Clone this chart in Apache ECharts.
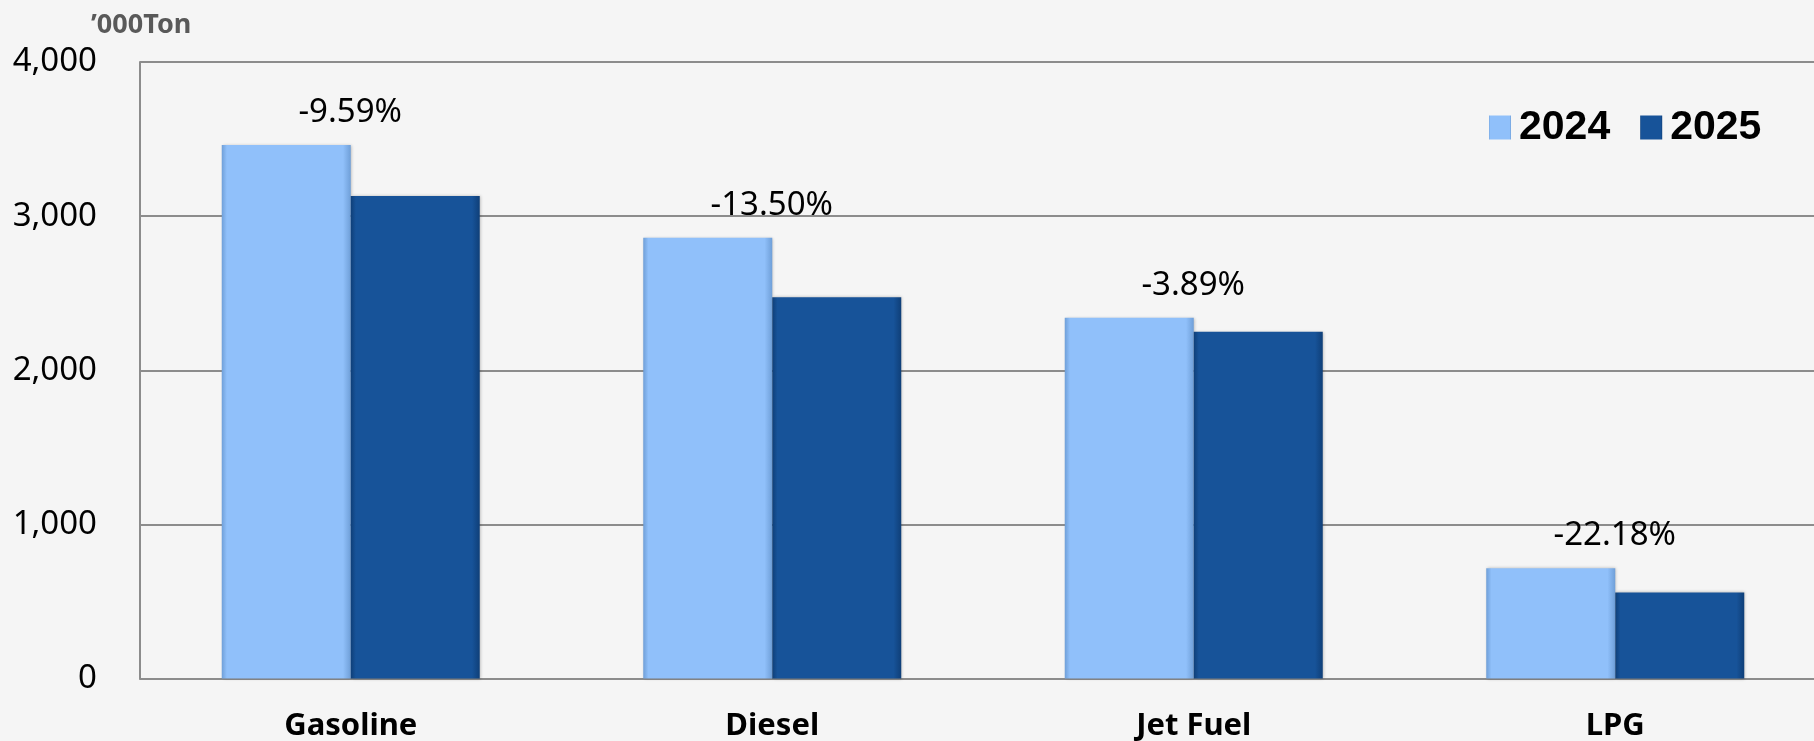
<!DOCTYPE html>
<html>
<head>
<meta charset="utf-8">
<script src="https://cdn.jsdelivr.net/npm/echarts@6/dist/echarts.min.js"></script>
<style>
html,body{margin:0;padding:0;background:#f5f5f5;overflow:hidden;}
#chart{width:1814px;height:741px;}
</style>
</head>
<body>
<div id="chart"></div>
<script>
const categories = ['Gasoline', 'Diesel', 'Jet Fuel', 'LPG'];
const values2024 = [3462, 2860, 2340, 715];
const values2025 = [3130, 2474, 2249, 558];
const pctLabels = ['-9.59%', '-13.50%', '-3.89%', '-22.18%'];
const seriesNames = ['2024', '2025'];
const unitLabel = '\u2019000Ton';

function bevel(edge, main) {
  return new echarts.graphic.LinearGradient(0, 0, 1, 0, [
    { offset: 0, color: edge },
    { offset: 0.04, color: main },
    { offset: 0.94, color: main },
    { offset: 1, color: edge }
  ]);
}

const chart = echarts.init(document.getElementById('chart'));
chart.setOption({
  backgroundColor: '#f5f5f5',
  animation: false,
  title: {
    text: unitLabel,
    left: 86,
    top: 7,
    textStyle: { fontFamily: 'Noto Sans', fontWeight: 'bold', fontSize: 27, color: '#595959' }
  },
  legend: {
    left: 1484,
    top: 102,
    itemWidth: 22,
    itemHeight: 24,
    itemGap: 30,
    icon: 'rect',
    textStyle: { fontFamily: 'Liberation Sans', fontWeight: 'bold', fontSize: 41, color: '#000', padding: [0, 0, 0, 3] },
    data: seriesNames
  },
  grid: { left: 140, top: 62, width: 1686, height: 616.5, outerBoundsMode: 'none', containLabel: false },
  xAxis: {
    type: 'category',
    data: categories,
    axisLine: { lineStyle: { color: '#8c8c8c', width: 2 } },
    axisTick: { show: false },
    axisLabel: { margin: 32, fontFamily: 'Noto Sans', fontWeight: 'bold', fontSize: 31, color: '#000' }
  },
  yAxis: {
    type: 'value',
    min: 0,
    max: 4000,
    interval: 1000,
    axisLine: { show: true, lineStyle: { color: '#8c8c8c', width: 2 } },
    axisTick: { show: false },
    splitLine: { lineStyle: { color: '#8c8c8c', width: 2 } },
    axisLabel: {
      margin: 43,
      fontFamily: 'Noto Sans',
      fontSize: 33,
      color: '#000',
      formatter: v => v.toLocaleString('en-US')
    }
  },
  series: [
    {
      name: seriesNames[0],
      type: 'bar',
      data: values2024,
      barWidth: 129,
      barGap: '0%',
      itemStyle: {
        color: bevel('#6f9fd8', '#90c0fa'),
        shadowColor: 'rgba(0,0,0,0.25)',
        shadowBlur: 3,
        shadowOffsetX: 1
      },
      label: {
        show: true,
        position: 'top',
        distance: 16,
        offset: [64, 0],
        fontFamily: 'Noto Sans',
        fontSize: 33,
        color: '#000',
        formatter: p => pctLabels[p.dataIndex]
      }
    },
    {
      name: seriesNames[1],
      type: 'bar',
      data: values2025,
      barWidth: 129,
      itemStyle: {
        color: bevel('#0f3f78', '#175399'),
        shadowColor: 'rgba(0,0,0,0.25)',
        shadowBlur: 3,
        shadowOffsetX: 1
      }
    }
  ]
});
</script>
</body>
</html>
